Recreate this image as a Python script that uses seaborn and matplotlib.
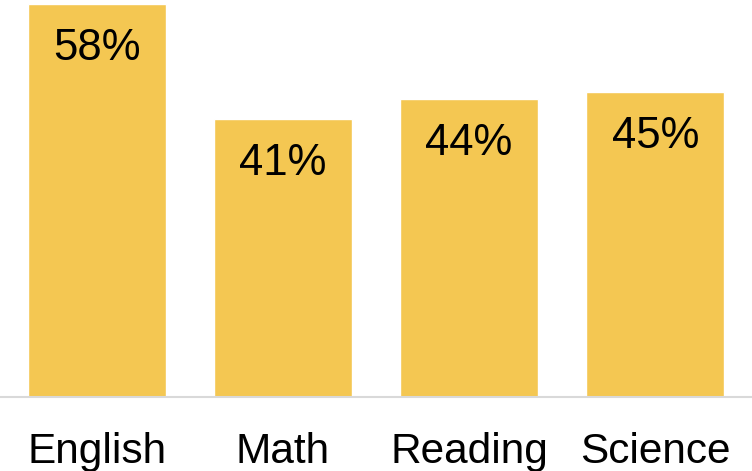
import matplotlib
matplotlib.use('Agg')
import matplotlib.pyplot as plt
import seaborn as sns
import pandas as pd

# data
subjects = ['English', 'Math', 'Reading', 'Science']
percent = [58, 41, 44, 45]
labels = ['58%', '41%', '44%', '45%']

BAR_COLOR = '#F4C752'

sns.set_style('white')
plt.rcParams['font.family'] = ['Liberation Sans', 'DejaVu Sans']

df = pd.DataFrame({'subject': subjects, 'pct': percent})

fig = plt.figure(figsize=(7.52, 4.71), dpi=100)
ax = fig.add_axes([0.0, 1 - 397 / 471, 1.0, 397 / 471])

sns.barplot(data=df, x='subject', y='pct', color=BAR_COLOR, saturation=1,
            width=0.74, ax=ax)

for i, (v, lab) in enumerate(zip(percent, labels)):
    ax.annotate(lab, xy=(i, v), xytext=(0, -17), textcoords='offset points',
                ha='center', va='top', fontsize=31.5, color='black')

ax.set_xlim(-0.52, 3.52)
ax.set_ylim(0, 58.6)
ax.set_xlabel('')
ax.set_ylabel('')
ax.set_yticks([])
ax.tick_params(axis='x', length=0, pad=25, labelsize=30.5, labelcolor='black')

for side in ['left', 'right', 'top']:
    ax.spines[side].set_visible(False)
ax.spines['bottom'].set_color('#d9d9d9')
ax.spines['bottom'].set_linewidth(1.5)

fig.savefig('out.png', dpi=100)
